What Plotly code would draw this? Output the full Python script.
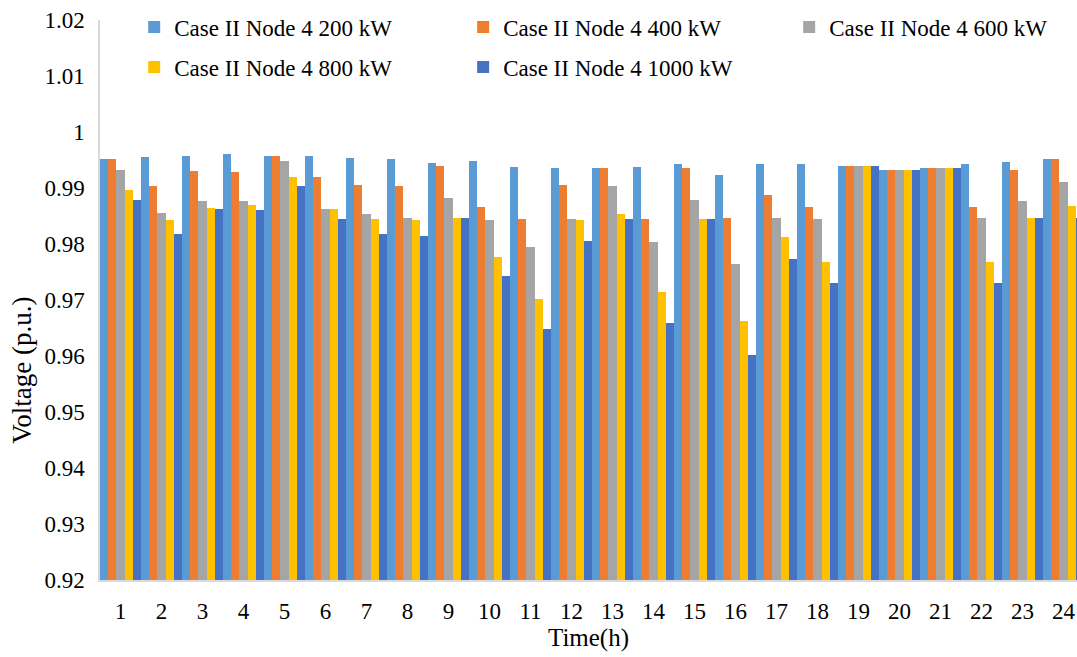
import plotly.graph_objects as go

# Hourly voltage at node 4 (Case II) for several injection levels
hours = [str(h) for h in range(1, 25)]

v_200kw = [0.9951, 0.9955, 0.9958, 0.9960, 0.9958, 0.9958, 0.9953, 0.9951, 0.9944, 0.9949, 0.9937, 0.9935,
           0.9935, 0.9937, 0.9942, 0.9924, 0.9942, 0.9942, 0.9939, 0.9933, 0.9935, 0.9942, 0.9946, 0.9951]
v_400kw = [0.9951, 0.9904, 0.9930, 0.9929, 0.9958, 0.9919, 0.9905, 0.9904, 0.9939, 0.9866, 0.9845, 0.9905,
           0.9935, 0.9845, 0.9935, 0.9847, 0.9888, 0.9866, 0.9939, 0.9933, 0.9935, 0.9866, 0.9933, 0.9951]
v_600kw = [0.9933, 0.9856, 0.9877, 0.9877, 0.9949, 0.9862, 0.9854, 0.9847, 0.9883, 0.9843, 0.9795, 0.9845,
           0.9904, 0.9804, 0.9879, 0.9764, 0.9847, 0.9845, 0.9939, 0.9933, 0.9935, 0.9847, 0.9877, 0.9910]
v_800kw = [0.9896, 0.9843, 0.9865, 0.9870, 0.9919, 0.9862, 0.9845, 0.9843, 0.9847, 0.9777, 0.9702, 0.9843,
           0.9854, 0.9714, 0.9845, 0.9662, 0.9813, 0.9767, 0.9939, 0.9933, 0.9935, 0.9768, 0.9847, 0.9867]
v_1000kw = [0.9879, 0.9817, 0.9862, 0.9861, 0.9904, 0.9845, 0.9817, 0.9815, 0.9847, 0.9743, 0.9648, 0.9806,
            0.9845, 0.9659, 0.9845, 0.9601, 0.9773, 0.9730, 0.9939, 0.9933, 0.9935, 0.9730, 0.9847, 0.9847]

series_names = ["Case II Node 4 200 kW", "Case II Node 4 400 kW", "Case II Node 4 600 kW",
                "Case II Node 4 800 kW", "Case II Node 4 1000 kW"]
series_values = [v_200kw, v_400kw, v_600kw, v_800kw, v_1000kw]
colors = ["#5B9BD5", "#ED7D31", "#A5A5A5", "#FFC000", "#4472C4"]

y_ticks = [0.92, 0.93, 0.94, 0.95, 0.96, 0.97, 0.98, 0.99, 1.0, 1.01, 1.02]
y_ticktext = ["0.92", "0.93", "0.94", "0.95", "0.96", "0.97", "0.98", "0.99", "1", "1.01", "1.02"]

FONT = "Liberation Serif, Times New Roman, serif"

# legend key grid: three columns on the first row, two on the second
legend_ids = ["legend", "legend2", "legend3", "legend4", "legend5"]
legend_x = [0.0350, 0.3717, 0.7054, 0.0350, 0.3717]
legend_y = [0.9875, 0.9875, 0.9875, 0.9160, 0.9160]

fig = go.Figure()
for name, vals, col, lg in zip(series_names, series_values, colors, legend_ids):
    fig.add_trace(go.Bar(
        x=hours, y=vals, name=name,
        marker=dict(color=col, line=dict(width=0)),
        legend=lg,
    ))

legend_layout = {}
for lg, lx, ly in zip(legend_ids, legend_x, legend_y):
    legend_layout[lg] = dict(
        x=lx, y=ly, xanchor="left", yanchor="middle",
        orientation="h",
        font=dict(family=FONT, size=23, color="#000000"),
        bgcolor="rgba(255,255,255,0)",
        itemclick=False, itemdoubleclick=False,
    )

fig.update_layout(
    width=1077, height=657,
    margin=dict(l=100, r=0, t=20, b=77),
    paper_bgcolor="white", plot_bgcolor="white",
    barmode="group", bargap=0.0, bargroupgap=0.0,
    font=dict(family=FONT, size=23, color="#000000"),
    showlegend=True,
    xaxis=dict(
        range=[-0.5, 23.33],
        showline=True, linecolor="#D9D9D9", linewidth=1.5,
        showgrid=False, ticks="", ticklabelstandoff=10,
        tickfont=dict(family=FONT, size=23),
        title=dict(text="Time(h)", font=dict(family=FONT, size=25), standoff=2),
    ),
    yaxis=dict(
        range=[0.92, 1.02],
        tickvals=y_ticks, ticktext=y_ticktext,
        showline=True, linecolor="#D9D9D9", linewidth=1.5,
        showgrid=False, zeroline=False, ticks="", ticklabelstandoff=9,
        tickfont=dict(family=FONT, size=23),
    ),
    annotations=[dict(
        text="Voltage (p.u.)", textangle=-90,
        xref="paper", yref="paper", x=-0.080, y=0.375,
        xanchor="center", yanchor="middle", showarrow=False,
        font=dict(family=FONT, size=27, color="#000000"),
    )],
    **legend_layout,
)

fig.write_html("out.html")
